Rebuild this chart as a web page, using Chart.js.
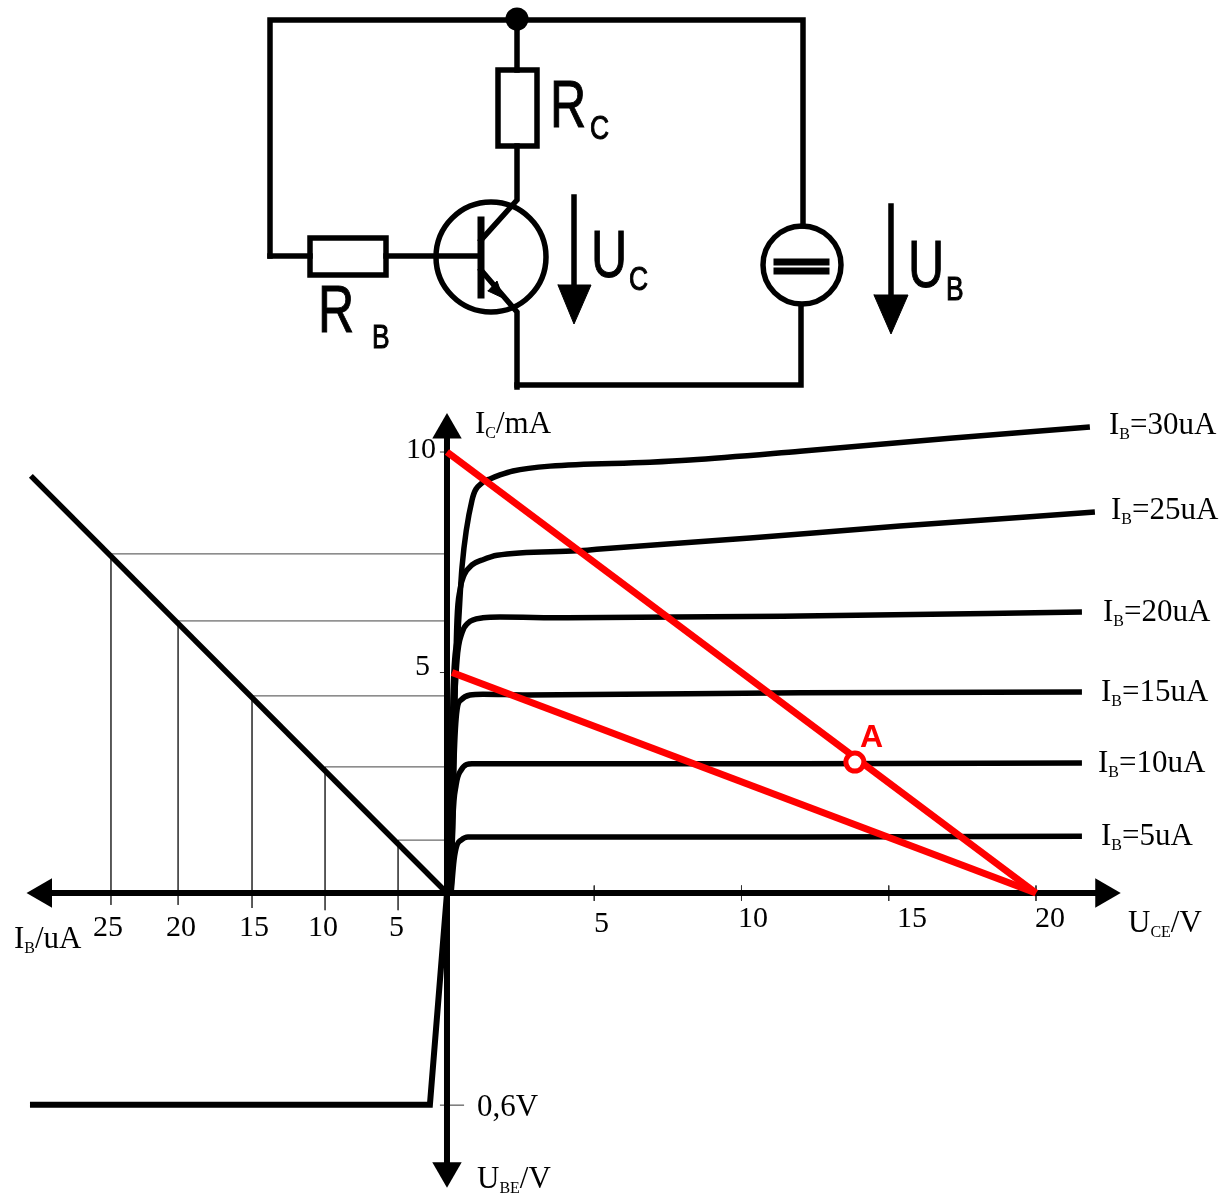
<!DOCTYPE html>
<html>
<head>
<meta charset="utf-8">
<title>Transistor characteristic</title>
<script src="https://cdn.jsdelivr.net/npm/chart.js@4"></script>
<style>
html, body { margin: 0; padding: 0; background: #fff; }
canvas { display: block; }
</style>
</head>
<body>
<canvas id="chart" width="1227" height="1194"></canvas>
<script>
// output curves, [UCE in V, IC in mA]
const ib30 = [[0.10,0],[0.20,4.38],[0.37,5.90],[0.51,7.39],[0.85,8.91],[1.19,9.30],[1.46,9.39],[1.80,9.48],[2.24,9.57],[3.50,9.68],[6.89,9.77],[8.25,9.82],[11.99,10.02],[17.08,10.31],[21.83,10.57]];
const ib25 = [[0.14,0],[0.27,4.38],[0.34,6.19],[0.44,6.87],[0.58,7.21],[0.85,7.44],[1.19,7.55],[1.70,7.66],[4.41,7.76],[5.20,7.80],[10.29,8.05],[15.38,8.32],[22.0,8.64]];
const ib20 = [[0.14,0],[0.24,3.92],[0.34,5.28],[0.51,5.90],[0.71,6.12],[1.22,6.24],[1.80,6.26],[4.07,6.24],[12.0,6.28],[21.56,6.37]];
const ib15 = [[0.14,0],[0.24,3.02],[0.34,4.15],[0.48,4.38],[0.78,4.49],[1.22,4.51],[2.72,4.49],[12.0,4.54],[21.56,4.56]];
const ib10 = [[0.14,0],[0.20,1.66],[0.31,2.45],[0.48,2.79],[0.85,2.93],[1.80,2.93],[12.0,2.93],[21.56,2.95]];
const ib5 = [[0.14,0],[0.24,0.75],[0.34,1.09],[0.48,1.20],[0.71,1.27],[12.0,1.27],[21.56,1.29]];

// load lines and working point
const loadLine1 = [[0,10],[20,0]];
const loadLine2 = [[0.17,5],[20,0]];
const pointA = [[13.85,2.97]];

// input side, left quadrant
const ibLine = [[-14.13,9.46],[0,0]];
const ubeLine = [[0,0],[-0.58,-4.8],[-14.16,-4.8]];
const ibGuideX = [-1.66,-4.14,-6.62,-9.13,-11.41];
const ibGuideY = [1.20,2.86,4.47,6.17,7.69];
const ibGuideEnd = [-0.39,-0.39,-0.34,-0.27,-0.27];

// axes
const xAxisLine = [[-13.7,0],[22.3,0]];
const yAxisLine = [[0,10.5],[0,-6.3]];
const uceTicks = [5,10,15,20];
const icTicks = [5,10];
const ubeTick = -4.81;

const wireTop = [[270,256],[310,256]];
const wireLeft = [[270,256],[270,20],[803,20],[803,226]];
const wireRc = [[517,20],[517,70]];
const rectRc = [[498,70],[537,70],[537,146],[498,146],[498,70]];
const wireCollector = [[517,146],[517,200],[481,240]];
const rectRb = [[310,238],[386,238],[386,275],[310,275],[310,238]];
const wireBase = [[386,256],[481,256]];
const baseBar = [[481,220],[481,295]];
const wireEmitter = [[481,270],[517,312],[517,387]];
const wireBottom = [[517,385],[801,385],[801,305]];
const plateTop = [[777,262],[826,262]];
const plateBottom = [[777,271],[826,271]];
const arrowUc = [[574,197],[574,290]];
const arrowUb = [[891,206],[891,300]];
const headUc = [[558,285],[591,285],[574,324],[558,285]];
const headUb = [[874,295],[908,295],[891,334],[874,295]];
const headEmitter = [[488,291],[497,281],[503,298],[488,291]];
const junction = [[517,19]];
const transistor = [[491,257]];
const source = [[802,265]];

// text: [text, x, baseline]
const icTickText = [["10",406,458],["5",415,675]];
const uceTickText = [["5",594,932],["10",738,927],["15",897,927],["20",1035,927]];
const ibTickText = [["25",93,936],["20",166,936],["15",239,936],["10",308,936],["5",389,936]];
const curveText = [["30uA",1109,434],["25uA",1111,519],["20uA",1103,621],["15uA",1101,701],["10uA",1098,772],["5uA",1101,845]];
const plainText = [["0,6V",477,1116]];
const subText = [["I","C","/mA",475,433],["I","B","/uA",14,948],["U","CE","/V",1128,932],["U","BE","/V",477,1188]];
const circuitText = [["R","C",550,127,590,139],["U","C",591,277,629,290],["U","B",908,287,946,300],["R","B",318,332,372,348]];

const toPoints = (arr) => arr.map((p) => ({ x: p[0], y: p[1] }));

function line(arr, width, color) {
    return {
        data: toPoints(arr),
        showLine: true,
        borderColor: color || "#000",
        borderWidth: width,
        pointRadius: 0,
        borderCapStyle: "butt",
        borderJoinStyle: "miter",
        xAxisID: "x",
        yAxisID: "y",
    };
}

function curve(arr) {
    const ds = line(arr, 5.5);
    ds.cubicInterpolationMode = "monotone";
    return ds;
}

function wire(arr, width) {
    const ds = line(arr, width || 5.5);
    ds.xAxisID = "cx";
    ds.yAxisID = "cy";
    ds.borderCapStyle = "square";
    return ds;
}

function head(arr) {
    const ds = wire(arr, 1);
    ds.fill = "shape";
    ds.backgroundColor = "#000";
    return ds;
}

function ring(arr, radius) {
    return {
        data: toPoints(arr),
        pointRadius: radius,
        pointBorderWidth: 5.5,
        pointBorderColor: "#000",
        pointBackgroundColor: "rgba(0,0,0,0)",
        xAxisID: "cx",
        yAxisID: "cy",
    };
}

function arrowHead(x, y, rotation) {
    return {
        data: [{ x: x, y: y }],
        pointStyle: "triangle",
        pointRadius: 17,
        rotation: rotation,
        pointBorderWidth: 0,
        pointBackgroundColor: "#000",
        xAxisID: "x",
        yAxisID: "y",
    };
}

const datasets = [
    {
        data: toPoints(pointA),
        pointRadius: 9,
        pointBorderWidth: 5,
        pointBorderColor: "#ff0000",
        pointBackgroundColor: "#fff",
        xAxisID: "x",
        yAxisID: "y",
    },
    line(loadLine1, 7, "#ff0000"),
    line(loadLine2, 7, "#ff0000"),
    curve(ib30), curve(ib25), curve(ib20), curve(ib15), curve(ib10), curve(ib5),
    line(ibLine, 5.5),
    line(ubeLine, 6),
    line(xAxisLine, 6),
    line(yAxisLine, 6),
    arrowHead(xAxisLine[0][0], 0, 270),
    arrowHead(xAxisLine[1][0], 0, 90),
    arrowHead(0, yAxisLine[0][1], 0),
    arrowHead(0, yAxisLine[1][1], 180),
];

// thin guides and tick marks
ibGuideX.forEach((x, i) => {
    datasets.push(line([[x, ibGuideY[i]], [x, ibGuideEnd[i]]], 1, "#444"));
    datasets.push(line([[x, ibGuideY[i]], [0, ibGuideY[i]]], 1, "#444"));
});
uceTicks.forEach((x) => datasets.push(line([[x, 0.17], [x, -0.18]], 1, "#333")));
icTicks.forEach((y) => datasets.push(line([[-0.24, y], [0, y]], 1, "#333")));
datasets.push(line([[-0.24, ubeTick], [0.58, ubeTick]], 1, "#333"));

// circuit
[wireTop, wireLeft, wireRc, rectRc, wireCollector, rectRb, wireBase, wireEmitter, wireBottom, arrowUc, arrowUb]
    .forEach((w) => datasets.push(wire(w)));
datasets.push(wire(baseBar, 7), wire(plateTop, 7), wire(plateBottom, 7));
[headUc, headUb, headEmitter].forEach((h) => datasets.push(head(h)));
datasets.push(ring(transistor, 55), ring(source, 39));
datasets.push({
    data: toPoints(junction),
    pointRadius: 11.5,
    pointBorderWidth: 0,
    pointBackgroundColor: "#000",
    xAxisID: "cx",
    yAxisID: "cy",
});

const SERIF = '"Liberation Serif"';
const SANS = '"Liberation Sans"';

const textPlugin = {
    id: "texts",
    afterDatasetsDraw(chart) {
        const ctx = chart.ctx;
        const cx = chart.scales.cx;
        const cy = chart.scales.cy;

        function put(str, x, y, font, color) {
            ctx.font = font;
            ctx.fillStyle = color || "#000";
            ctx.fillText(str, cx.getPixelForValue(x), cy.getPixelForValue(y));
            return ctx.measureText(str).width;
        }

        function putSub(main, sub, rest, x, y) {
            let pos = x;
            pos += put(main, pos, y, "31px " + SERIF);
            pos += put(sub, pos, y + 5, "16px " + SERIF);
            put(rest, pos, y, "31px " + SERIF);
        }

        function putNarrow(str, x, y, size, sx) {
            ctx.save();
            ctx.translate(cx.getPixelForValue(x), cy.getPixelForValue(y));
            ctx.scale(sx, 1);
            ctx.font = size + "px " + SANS;
            ctx.fillStyle = "#000";
            ctx.strokeStyle = "#000";
            ctx.lineWidth = 1;
            ctx.fillText(str, 0, 0);
            ctx.strokeText(str, 0, 0);
            ctx.restore();
        }

        ctx.save();
        ctx.textAlign = "left";
        ctx.textBaseline = "alphabetic";
        [icTickText, uceTickText, ibTickText].forEach((group) => {
            group.forEach((t) => put(t[0], t[1], t[2], "30px " + SERIF));
        });
        plainText.forEach((t) => put(t[0], t[1], t[2], "31px " + SERIF));
        curveText.forEach((t) => putSub("I", "B", "=" + t[0], t[1], t[2]));
        subText.forEach((t) => putSub(t[0], t[1], t[2], t[3], t[4]));
        circuitText.forEach((t) => {
            putNarrow(t[0], t[2], t[3], 66, 0.76);
            putNarrow(t[1], t[4], t[5], 33, 0.8);
        });
        put("A", 860, 747, "bold 32px " + SANS, "#ff0000");
        ctx.restore();
    },
};

new Chart(document.getElementById("chart").getContext("2d"), {
    type: "scatter",
    data: { datasets: datasets },
    plugins: [textPlugin],
    options: {
        responsive: false,
        animation: false,
        events: [],
        layout: { padding: 0, autoPadding: false },
        plugins: {
            legend: { display: false },
            title: { display: false },
            tooltip: { enabled: false },
        },
        scales: {
            x: { type: "linear", display: false, min: -15.178, max: 26.486 },
            y: { type: "linear", display: false, min: -6.825, max: 20.25 },
            cx: { type: "linear", display: false, axis: "x", min: 0, max: 1227 },
            cy: { type: "linear", display: false, axis: "y", min: 0, max: 1194, reverse: true },
        },
    },
});
</script>
</body>
</html>
